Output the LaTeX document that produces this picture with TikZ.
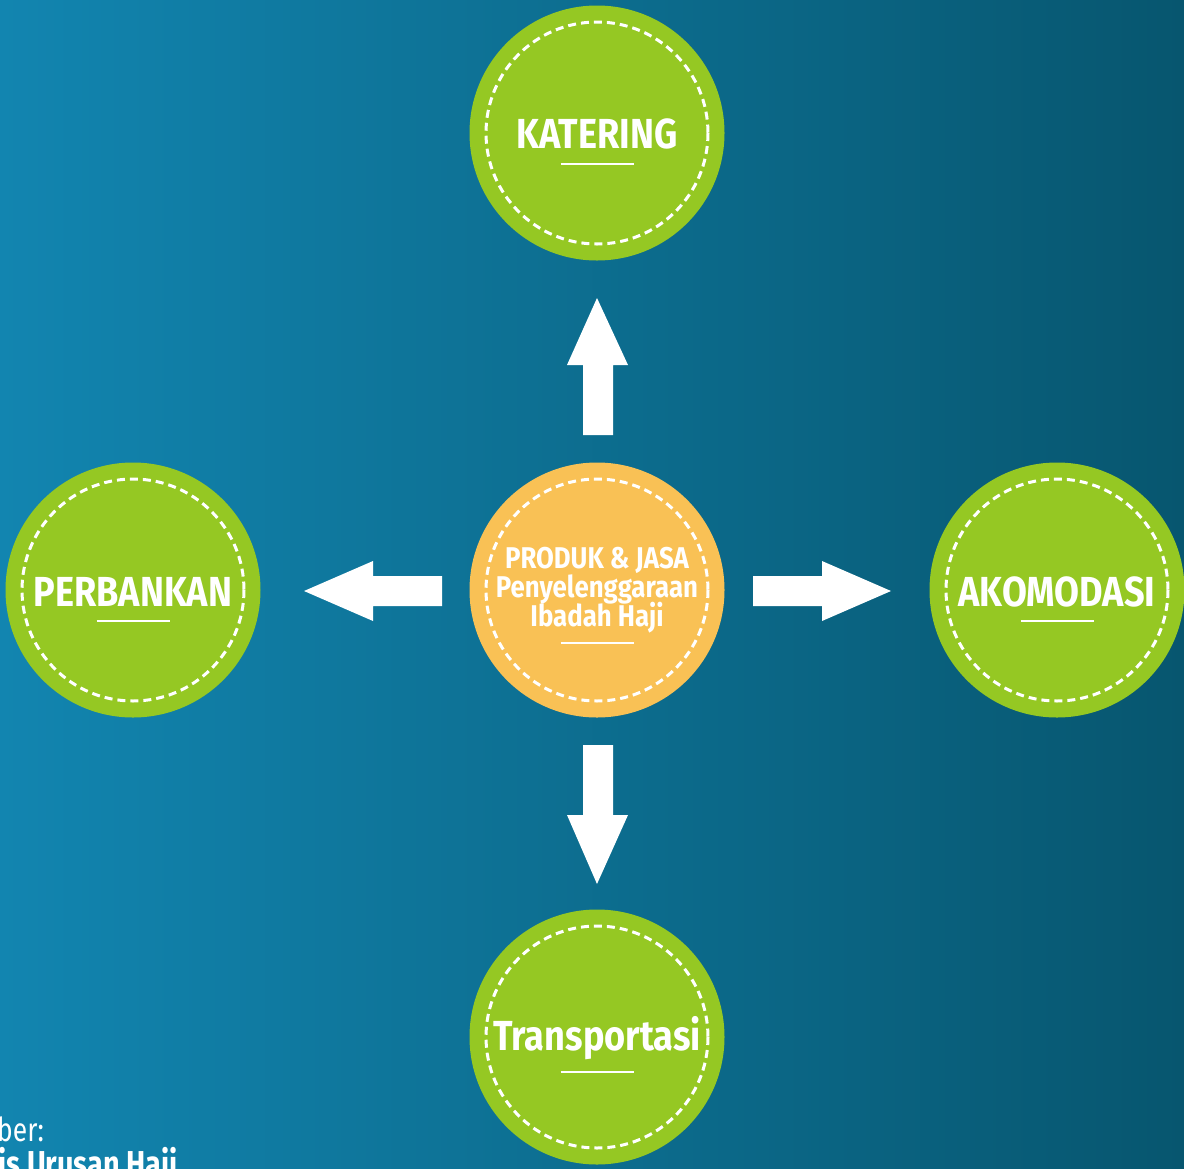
\documentclass[tikz,border=0pt]{standalone}
\usepackage{fontspec}
\newfontfamily\lab[FakeStretch=0.86]{Fira Sans}
\newfontfamily\labsrc[FakeStretch=0.8]{Fira Sans}
\definecolor{bgL}{HTML}{1285B0}
\definecolor{bgR}{HTML}{07566F}
\definecolor{grn}{HTML}{95C823}
\definecolor{org}{HTML}{F9C155}
\begin{document}
\begin{tikzpicture}[x=1pt,y=-1pt,
  disc/.style={circle,minimum size=255pt,inner sep=0pt},
  ring/.style={draw=white,line width=3pt,dash pattern=on 8pt off 5pt},
  lbl/.style={text=white,font=\lab\bfseries\fontsize{42}{42}\selectfont,anchor=base,inner sep=0pt},
  plbl/.style={lbl,font=\lab\bfseries\fontsize{30}{29}\selectfont},
  uline/.style={draw=white,line width=2pt},
  arr/.style={fill=white}]
\useasboundingbox (0,0) rectangle (1184,1168);
\clip (0,0) rectangle (1184,1168);
\shade[left color=bgL,right color=bgR] (0,0) rectangle (1184,1168);
% discs
\node[disc,fill=grn] (kat) at (597,133) {};
\node[disc,fill=grn] (per) at (133,590) {};
\node[disc,fill=grn] (ako) at (1057,590) {};
\node[disc,fill=grn] (tra) at (597,1037) {};
\node[disc,fill=org] (pro) at (597,590) {};
\foreach \n in {kat,per,ako,tra,pro}{
  \draw[ring] (\n) circle (111);
}
\foreach \n in {kat,per,ako}{
  \draw[uline] ([xshift=-36.5pt,yshift=-31pt]\n.center) -- ([xshift=36.5pt,yshift=-31pt]\n.center);
}
\draw[uline] ([xshift=-36.5pt,yshift=-35pt]tra.center) -- ([xshift=36.5pt,yshift=-35pt]tra.center);
\draw[uline] ([xshift=-36.5pt,yshift=-53pt]pro.center) -- ([xshift=36.5pt,yshift=-53pt]pro.center);
% labels
\node[lbl] (katt) at (597,148) {KATERING};
\node[lbl] (pert) at (133,606) {PERBANKAN};
\node[lbl] (akot) at (1057,606) {AKOMODASI};
\node[lbl] (trat) at (597,1050) {Transportasi};
\node[plbl] (prot1) at (597,568) {PRODUK \& JASA};
\node[plbl] (prot2) at (597,597) {Penyelenggaraan};
\node[plbl] (prot3) at (597,626) {Ibadah Haji};
% arrows
\fill[arr] (583,435) -- (583,365) -- (567,365) -- (597,298) -- (628,365) -- (613,365) -- (613,435) -- cycle;
\fill[arr] (583,745) -- (583,815) -- (567,815) -- (597,884) -- (628,815) -- (613,815) -- (613,745) -- cycle;
\fill[arr] (442,576) -- (373,576) -- (373,561) -- (304,591) -- (373,621) -- (373,606) -- (442,606) -- cycle;
\fill[arr] (753,576) -- (822,576) -- (822,561) -- (891,591) -- (822,621) -- (822,606) -- (753,606) -- cycle;
% source text
\node[text=white,anchor=base west,inner sep=0pt,font=\labsrc\fontsize{33}{33}\selectfont] (src1) at (-3,1141) {ber:};
\node[text=white,anchor=base west,inner sep=0pt,font=\labsrc\bfseries\fontsize{36}{36}\selectfont] (src2) at (-2,1176) {is Urusan Haji};
\end{tikzpicture}
\end{document}
